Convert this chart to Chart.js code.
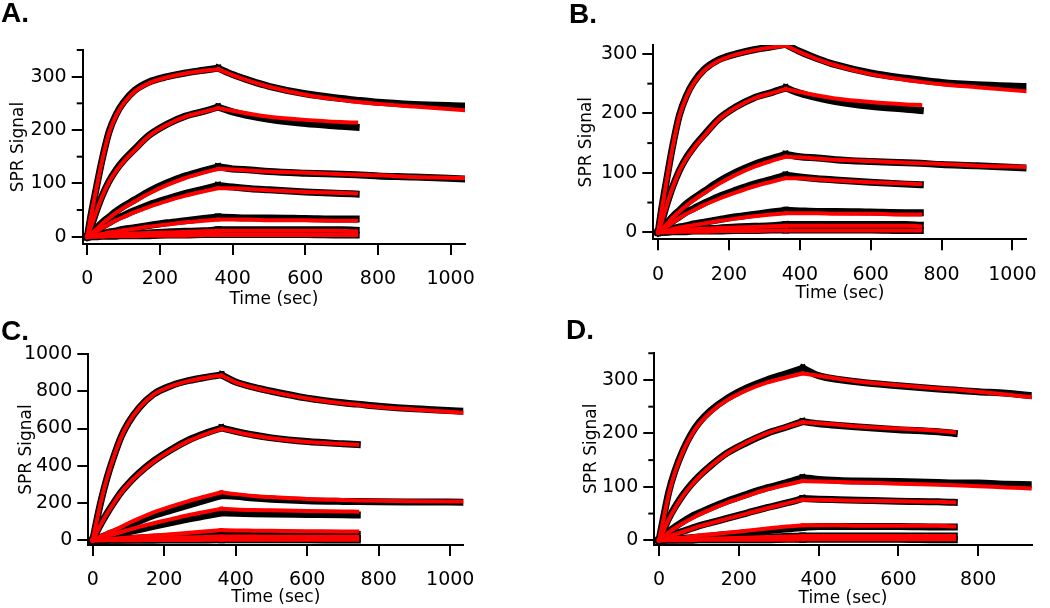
<!DOCTYPE html>
<html><head><meta charset="utf-8">
<script src="https://cdn.jsdelivr.net/npm/chart.js@4/dist/chart.umd.min.js"></script>
<style>
html,body{margin:0;padding:0;background:#fff;width:1050px;height:608px;overflow:hidden;position:relative}
canvas{position:absolute;left:0;top:0}
.lbl{position:absolute;font:bold 28px "Liberation Sans",Arial,sans-serif;line-height:28px;color:#000;z-index:5}
</style></head><body>
<div class="lbl" style="left:1px;top:-1px">A.</div>
<div class="lbl" style="left:569px;top:0px">B.</div>
<div class="lbl" style="left:1px;top:317px">C.</div>
<div class="lbl" style="left:566px;top:316px">D.</div>
<canvas id="cA" width="1050" height="608"></canvas>
<canvas id="cB" width="1050" height="608"></canvas>
<canvas id="cC" width="1050" height="608"></canvas>
<canvas id="cD" width="1050" height="608"></canvas>
<script>
// ---------- time points (sec) ----------
const tA = [0,10,25,40,60,80,100,130,170,220,270,320,360,400,450,500,600,700,740,800,900,1040];
const tC = [0,10,25,40,60,80,100,130,170,220,270,320,360,400,450,500,600,700,740,800,900,1040];
const tD = [0,10,25,40,60,80,100,130,170,220,270,320,360,400,450,500,600,700,740,800,870,930];
const injectionEnd = 360; // association -> dissociation switch (sec)

// ---------- panel A (and B: same sensorgrams) : d = data (black), f = fit (red) ----------
const A1d = [0,40,92,142,197,230,252,274,290,300,307,312,316,304,292,282,268,259,256,252,248,245];
const A1f = [0,38,90,140,195,228,250,272,288,299,306,311,314,303,291,281,266,256,253,249,244,237];
const A2d = [0,18,48,75,104,126,143,164,190,211,226,235,243,234,226,220,212,207,205];
const A2f = [0,18,47,74,103,124,141,162,189,210,225,234,241,236,230,225,219,215,214];
const A3d = [0,6,16,26,37,48,57,69,85,101,114,124,131,127,125,122,119,117,116,114,112,108];
const A3f = [0,5,14,24,35,45,54,66,81,97,110,120,127,126,124,122,120,117,116,115,112,110];
const A4d = [0,4,11,18,26,34,40,49,60,71,81,89,96,93,90,88,84,81,80];
const A4f = [0,4,10,16,24,31,37,46,56,67,77,85,91,91,89,87,84,82,81];
const A5d = [0,1,4,6,9,11,14,17,21,26,30,34,37,36,35,35,34,33,33];
const A5f = [0,1,3,5,8,10,12,15,19,23,27,30,32,32,32,31,31,30,30];
const A6d = [0,0,1,2,3,4,5,6,7,9,10,11,13,13,13,13,13,13,12];
const A6f = [0,0,1,2,3,4,5,6,7,8,9,10,11,11,11,11,11,11,10];
const A7d = [0,0,0,1,1,1,2,2,2,3,3,4,4,4,4,4,4,3,3];
const A7f = [0,0,0,0,1,1,1,1,2,2,2,3,3,3,3,3,3,3,3];

// ---------- panel C ----------
const C1d = [0,95,225,335,455,558,632,712,784,830,858,876,888,850,822,800,763,738,731,720,706,693];
const C1f = [0,93,223,333,453,555,630,710,782,828,856,874,885,848,820,798,761,735,728,716,702,685];
const C2d = [0,40,95,145,205,260,305,362,425,488,540,578,603,585,565,550,530,518,514];
const C2f = [0,38,93,143,203,257,302,358,421,484,535,573,598,582,563,548,528,517,513];
const C3d = [0,7,18,30,45,60,78,102,133,162,190,218,240,236,227,221,213,209,208,207,206,205];
const C3f = [0,10,24,38,55,72,92,118,150,182,212,238,258,248,238,232,222,216,214,212,210,208];
const C4d = [0,4,11,18,27,36,45,58,75,95,115,133,148,146,143,141,139,137,136];
const C4f = [0,6,15,23,34,45,56,72,92,114,136,155,170,166,163,161,157,155,154];
const C5d = [0,1,3,4,6,8,10,13,17,22,27,32,37,36,35,34,33,32,32];
const C5f = [0,2,4,6,9,12,15,20,26,33,41,49,55,53,52,51,49,48,47];
const C6d = [0,0,1,1,2,2,3,4,5,6,8,9,10,10,10,10,10,10,10];
const C6f = [0,1,1,2,3,4,5,7,9,12,15,18,20,20,20,19,19,19,19];
const C7d = [0,0,0,0,0,1,1,1,1,2,2,2,3,3,3,3,3,2,2];
const C7f = [0,0,0,0,1,1,1,1,2,2,2,3,3,3,3,3,3,3,3];

// ---------- panel D ----------
const D1d = [0,38,92,130,168,198,220,243,265,285,300,312,322,308,301,296,289,283,281,278,275,271];
const D1f = [0,35,88,127,166,195,217,240,262,281,295,305,312,308,302,297,290,284,282,278,273,268];
const D2d = [0,17,42,62,85,104,120,140,163,183,200,212,222,218,215,212,207,203,200];
const D2f = [0,16,40,60,83,102,118,139,162,183,200,212,221,219,216,213,209,205,202];
const D3d = [0,7,17,25,35,44,51,61,73,86,98,108,117,114,112,111,110,108,107,107,105,104];
const D3f = [0,6,15,23,32,40,48,58,70,83,95,104,111,110,109,108,106,104,103,101,99,97];
const D4d = [0,3,8,12,17,22,27,33,41,51,61,70,78,77,76,75,73,72,71];
const D4f = [0,3,7,11,16,21,26,32,40,50,60,69,76,76,75,74,73,72,71];
const D5d = [0,1,2,3,4,5,6,8,11,14,18,21,24,26,26,26,26,25,25];
const D5f = [0,1,2,4,5,7,9,11,14,18,22,26,28,28,28,27,27,27,26];
const D6d = [0,0,1,1,2,2,3,3,4,5,6,7,8,8,8,8,8,8,8];
const D6f = [0,0,1,1,1,2,2,3,4,5,6,7,8,8,8,8,8,8,8];
const D7d = [0,0,0,0,0,0,1,1,1,1,1,2,2,2,2,2,2,1,1];
const D7f = [0,0,0,0,0,0,1,1,1,1,1,1,2,2,2,2,2,2,2];

// ---------- tick labels ----------
const xTicks1000 = [0,200,400,600,800,1000];
const xTicks800 = [0,200,400,600,800];
const yTicks300 = [0,100,200,300];
const yTicks1000 = [0,200,400,600,800,1000];
const yMinorA = [50,150,250,350];
const yMinorB = [50,150,250];
const yMinorD = [50,150,250,350];

const xTitle = 'Time (sec)';
const yTitle = 'SPR Signal';

const minorTicks = {
  id: 'minorTicks',
  afterDraw(chart, args, opts) {
    const ys = chart.scales.y, ctx = chart.ctx;
    ctx.save();
    ctx.strokeStyle = '#000'; ctx.lineWidth = 2;
    (opts.values || []).forEach(v => {
      const py = ys.getPixelForValue(v);
      ctx.beginPath(); ctx.moveTo(ys.right - 6, py); ctx.lineTo(ys.right, py); ctx.stroke();
    });
    ctx.restore();
  }
};

function phases(t, vals) {
  const pts = vals.map((v, i) => ({x: t[i], y: v}));
  const k = t.indexOf(injectionEnd);
  return [pts.slice(0, k + 1), pts.slice(k)];
}

function makePanel(id, p) {
  const datasets = [];
  p.series.forEach(([d, f], k) => {
    phases(p.t, f).forEach((pts, j) => datasets.push({label: 'fit' + k + '_' + j, data: pts,
      borderColor: '#ff0000', borderWidth: 4, order: 0, pointRadius: 0, fill: false,
      cubicInterpolationMode: 'monotone', borderJoinStyle: 'round', borderCapStyle: 'square'}));
    phases(p.t, d).forEach((pts, j) => datasets.push({label: 'data' + k + '_' + j, data: pts,
      borderColor: '#000000', borderWidth: 7, order: 1, pointRadius: 0, fill: false,
      cubicInterpolationMode: 'monotone', borderJoinStyle: 'round', borderCapStyle: 'square'}));
  });
  const font = 'DejaVu Sans';
  new Chart(document.getElementById(id), {
    type: 'line',
    data: {datasets},
    plugins: [minorTicks],
    options: {
      responsive: false, animation: false, devicePixelRatio: 1,
      events: [],
      layout: {padding: {left: p.area.left - p.yW, top: p.area.top,
        right: 1050 - p.area.right, bottom: 608 - p.area.bottom - p.xH}},
      plugins: {legend: {display: false}, tooltip: {enabled: false}, minorTicks: {values: p.minor}},
      scales: {
        x: {
          type: 'linear', position: 'bottom', min: p.xMin, max: p.xMax,
          afterFit: s => { s.height = p.xH; },
          afterBuildTicks: s => { s.ticks = p.xTicks.map(v => ({value: v})); },
          grid: {display: true, drawOnChartArea: false, drawTicks: true, tickLength: 11, color: '#000', lineWidth: 2},
          border: {display: true, color: '#000', width: 2},
          ticks: {color: '#000', font: {family: font, size: 19}, padding: 13, maxRotation: 0, autoSkip: false,
            callback: v => String(v)},
          title: {display: true, text: xTitle, color: '#000', font: {family: font, size: 17}, padding: 0}
        },
        y: {
          type: 'linear', position: 'left', min: p.yMin, max: p.yMax,
          afterFit: s => { s.width = p.yW; },
          afterBuildTicks: s => { s.ticks = p.yTicks.map(v => ({value: v})); },
          grid: {display: true, drawOnChartArea: false, drawTicks: true, tickLength: 11, color: '#000', lineWidth: 2},
          border: {display: true, color: '#000', width: 2},
          ticks: {color: '#000', font: {family: font, size: 19}, padding: 5, autoSkip: false,
            callback: v => String(v)},
          title: {display: true, text: yTitle, color: '#000', font: {family: font, size: 17}, padding: 0}
        }
      }
    }
  });
}

const seriesA = [[A1d,A1f],[A2d,A2f],[A3d,A3f],[A4d,A4f],[A5d,A5f],[A6d,A6f],[A7d,A7f]];
const seriesC = [[C1d,C1f],[C2d,C2f],[C3d,C3f],[C4d,C4f],[C5d,C5f],[C6d,C6f],[C7d,C7f]];
const seriesD = [[D1d,D1f],[D2d,D2f],[D3d,D3f],[D4d,D4f],[D5d,D5f],[D6d,D6f],[D7d,D7f]];

makePanel('cA', {t: tA, series: seriesA, area: {left: 82.7, right: 465, top: 50, bottom: 244},
  yW: 74, xH: 66, xMin: -12.7, xMax: 1039.6, yMin: -13.7, yMax: 350,
  xTicks: xTicks1000, yTicks: yTicks300, minor: yMinorA});
makePanel('cB', {t: tA, series: seriesA, area: {left: 653.3, right: 1038.3, top: 45, bottom: 239.3},
  yW: 77, xH: 64, xMin: -13.7, xMax: 1039.6, yMin: -11.8, yMax: 315,
  xTicks: xTicks1000, yTicks: yTicks300, minor: yMinorB});
makePanel('cC', {t: tC, series: seriesC, area: {left: 88.3, right: 463.3, top: 354, bottom: 545},
  yW: 72, xH: 63, xMin: -12.3, xMax: 1036.6, yMin: -25, yMax: 1000,
  xTicks: xTicks1000, yTicks: yTicks1000, minor: []});
makePanel('cD', {t: tD, series: seriesD, area: {left: 654.3, right: 1031.7, top: 352.7, bottom: 545},
  yW: 73, xH: 63.5, xMin: -11.8, xMax: 934, yMin: -8.8, yMax: 351,
  xTicks: xTicks800, yTicks: yTicks300, minor: yMinorD});
</script>
</body></html>
